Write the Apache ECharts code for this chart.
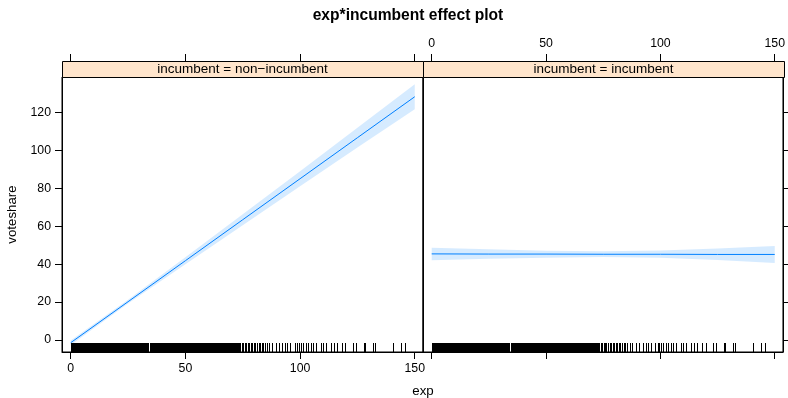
<!DOCTYPE html>
<html>
<head>
<meta charset="utf-8">
<script src="https://cdn.jsdelivr.net/npm/echarts@6/dist/echarts.min.js"></script>
<style>html,body{margin:0;padding:0;background:#fff}#c{width:788px;height:398px}</style>
</head>
<body>
<div id="c"></div>
<script>
// ---- data ----
const panels = ['incumbent = non\u2212incumbent', 'incumbent = incumbent'];
const expGrid = [0, 25, 50, 75, 100, 125, 150];
const nonIncFit = [-1.4, 20.2, 41.8, 63.4, 85.0, 106.6, 128.2];
const nonIncLower = [-2.6, 19.2, 40.0, 60.5, 81.0, 101.4, 121.6];
const nonIncUpper = [-0.2, 21.2, 43.6, 66.3, 89.0, 111.8, 134.8];
const incFit = [45.4, 45.3, 45.3, 45.2, 45.2, 45.1, 45.1];
const incLower = [42.1, 42.8, 43.4, 43.7, 43.3, 42.2, 40.6];
const incUpper = [48.6, 47.8, 47.1, 46.8, 47.2, 48.2, 49.6];
const xTicks = [0, 50, 100, 150];
const yTicks = [0, 20, 40, 60, 80, 100, 120];
const rug = [
 0, 0.3, 0.7, 1.1, 1.5, 1.9, 2.2, 2.6, 3.0, 3.4, 3.8, 4.1, 4.5, 4.9, 5.3, 5.7, 6.0, 6.4, 6.8, 7.2, 7.6, 7.9, 8.3, 8.7, 9.1, 9.5, 9.8,
 10.2, 10.6, 11.0, 11.4, 11.7, 12.1, 12.5, 12.9, 13.3, 13.6, 14.0, 14.4, 14.8, 15.5, 15.9, 16.3, 16.7, 17.0, 17.4, 17.8, 18.2, 18.6, 18.9, 19.3, 19.7,
 20.1, 20.5, 20.8, 21.2, 21.6, 22.0, 22.4, 22.7, 23.1, 23.5, 23.9, 24.3, 24.6, 25.0, 25.4, 25.8, 26.2, 26.5, 26.9, 27.3, 27.7, 28.1, 28.4, 28.8, 29.2, 29.6,
 30.0, 30.3, 30.7, 31.1, 31.5, 31.9, 32.2, 32.6, 33.0, 33.4, 33.8, 34.5, 34.9, 35.3, 35.7, 36.0, 36.4, 36.8, 37.2, 37.6, 37.9, 38.3, 38.7, 39.1, 39.5, 39.8,
 40.2, 40.6, 41.0, 41.4, 41.7, 42.1, 42.5, 42.9, 43.3, 43.6, 44.0, 44.4, 44.8, 45.2, 45.5, 45.9, 46.3, 46.7, 47.1, 47.4, 47.8, 48.2, 48.6, 49.0, 49.3, 49.7,
 50.1, 50.5, 50.9, 51.2, 51.6, 52.0, 52.4, 52.8, 53.1, 53.5, 53.9, 54.3, 54.7, 55.0, 55.4, 55.8, 56.2, 56.6, 56.9, 57.3, 57.7, 58.1, 58.5, 58.8, 59.2, 59.6,
 60.0, 60.4, 60.7, 61.1, 61.5, 61.9, 62.3, 62.6, 63.0, 63.4, 63.8, 64.2, 64.5, 64.9, 65.3, 65.7, 66.1, 66.4, 66.8, 67.2, 67.6, 68.0, 68.3, 68.7, 69.1, 69.5, 69.9,
 70.2, 70.6, 71.0, 71.4, 71.8, 72.1, 72.5, 72.9, 73.3,
 74.0, 74.6, 75.3, 75.9, 76.4, 77.2, 77.8, 78.5, 79.1, 79.9, 80.4, 81.2, 81.9, 82.5, 83.3, 84.0, 84.6, 85.4,
 86.5, 87.7, 89.4, 90.6, 92.3, 93.5, 94.5, 95.7, 97.8, 98.8, 99.6, 100.3, 101.3, 102.5, 103.5, 104.6, 105.7, 106.8,
 109.0, 110.1, 111.2, 113.3, 114.8, 116.2, 118.4, 119.8, 123.0, 124.2, 127.8, 128.3, 131.7, 132.8, 140.4, 144.2, 145.7
];

// ---- chart ----
const FONT = 'Liberation Sans, Arial, Helvetica, sans-serif';
const XMIN = -3.8, XMAX = 153.6, YMIN = -6.3, YMAX = 138.6;
const BLUE = '#0080FF';
const BAND = 'rgba(0,128,255,0.16)';
const TICKFS = 12.3;
const gridBoxes = [
  {left: 62, top: 77, width: 361, height: 275},
  {left: 423, top: 77, width: 361, height: 275}
];

function xAxis(grid, pos, ticks, labels, offset) {
  return {
    type: 'value', gridIndex: grid, position: pos, min: XMIN, max: XMAX, offset: offset,
    axisLine: {show: offset === 0, onZero: false, lineStyle: {color: '#000', width: 1}},
    axisTick: {show: ticks, inside: false, length: 7, customValues: xTicks, lineStyle: {color: '#000'}},
    axisLabel: {show: labels, customValues: xTicks, margin: 11, color: '#000', fontSize: TICKFS, fontFamily: FONT},
    splitLine: {show: false}
  };
}
function yAxis(grid, pos, ticks, labels) {
  return {
    type: 'value', gridIndex: grid, position: pos, min: YMIN, max: YMAX,
    axisLine: {show: true, onZero: false, lineStyle: {color: '#000', width: 1}},
    axisTick: {show: ticks, inside: false, length: 7, customValues: yTicks, lineStyle: {color: '#000'}},
    axisLabel: {show: labels, customValues: yTicks, margin: 11, color: '#000', fontSize: TICKFS, fontFamily: FONT},
    splitLine: {show: false}
  };
}

function bandSeries(idx, lower, upper) {
  return {
    type: 'custom', xAxisIndex: idx * 2, yAxisIndex: idx * 2, z: 1, silent: true,
    data: expGrid.map((x, i) => [x, lower[i], upper[i]]),
    encode: {x: 0, y: [1, 2]},
    renderItem: function (params, api) {
      if (params.dataIndex !== 0) return null;
      const pts = [];
      for (let i = 0; i < expGrid.length; i++) pts.push(api.coord([expGrid[i], upper[i]]));
      for (let i = expGrid.length - 1; i >= 0; i--) pts.push(api.coord([expGrid[i], lower[i]]));
      return {type: 'polygon', shape: {points: pts}, style: {fill: BAND, stroke: null}};
    }
  };
}
function lineSeries(idx, fit) {
  return {
    type: 'line', xAxisIndex: idx * 2, yAxisIndex: idx * 2, z: 3, silent: true,
    data: expGrid.map((x, i) => [x, fit[i]]),
    showSymbol: false, symbol: 'none', animation: false,
    lineStyle: {color: BLUE, width: 1}
  };
}
function rugSeries(idx) {
  return {
    type: 'custom', xAxisIndex: idx * 2, yAxisIndex: idx * 2, z: 4, silent: true,
    data: rug.map(v => [v, 0]),
    encode: {x: 0, y: 1},
    renderItem: function (params, api) {
      const x = Math.round(api.coord([api.value(0), 0])[0]) + 0.5;
      const bottom = params.coordSys.y + params.coordSys.height;
      return {type: 'line', shape: {x1: x, y1: bottom, x2: x, y2: bottom - 9},
              style: {stroke: '#000', lineWidth: 1}};
    }
  };
}

const graphics = [
  {type: 'text', style: {text: 'exp*incumbent effect plot', x: 408, y: 16,
    align: 'center', verticalAlign: 'middle', font: 'bold 15.6px ' + FONT, fill: '#000'}},
  {type: 'text', style: {text: 'exp', x: 423, y: 391, align: 'center', verticalAlign: 'middle',
    font: '13.3px ' + FONT, fill: '#000'}},
  {type: 'text', rotation: Math.PI / 2, x: 12, y: 214.5, style: {text: 'voteshare', x: 0, y: 0,
    align: 'center', verticalAlign: 'middle', font: '13.3px ' + FONT, fill: '#000'}}
];
gridBoxes.forEach((g, i) => {
  graphics.push({type: 'rect', z: 10, shape: {x: g.left + 0.5, y: 61.5, width: g.width, height: 16},
    style: {fill: '#FFE5CC', stroke: '#000', lineWidth: 1}});
  graphics.push({type: 'text', z: 11, style: {text: panels[i], x: g.left + g.width / 2, y: 69.5,
    align: 'center', verticalAlign: 'middle', font: '13.5px ' + FONT, fill: '#000'}});
});

const chart = echarts.init(document.getElementById('c'), null, {renderer: 'canvas'});
chart.setOption({
  animation: false,
  backgroundColor: '#fff',
  grid: gridBoxes.map(g => Object.assign({show: true, borderColor: '#000', borderWidth: 1,
    backgroundColor: '#fff', containLabel: false}, g)),
  xAxis: [
    xAxis(0, 'bottom', true, true, 0), xAxis(0, 'top', true, false, 16),
    xAxis(1, 'bottom', true, false, 0), xAxis(1, 'top', true, true, 16)
  ],
  yAxis: [
    yAxis(0, 'left', true, true), yAxis(0, 'right', false, false),
    yAxis(1, 'right', true, false), yAxis(1, 'left', false, false)
  ],
  series: [
    bandSeries(0, nonIncLower, nonIncUpper), lineSeries(0, nonIncFit), rugSeries(0),
    bandSeries(1, incLower, incUpper), lineSeries(1, incFit), rugSeries(1)
  ],
  graphic: graphics
});
</script>
</body>
</html>
